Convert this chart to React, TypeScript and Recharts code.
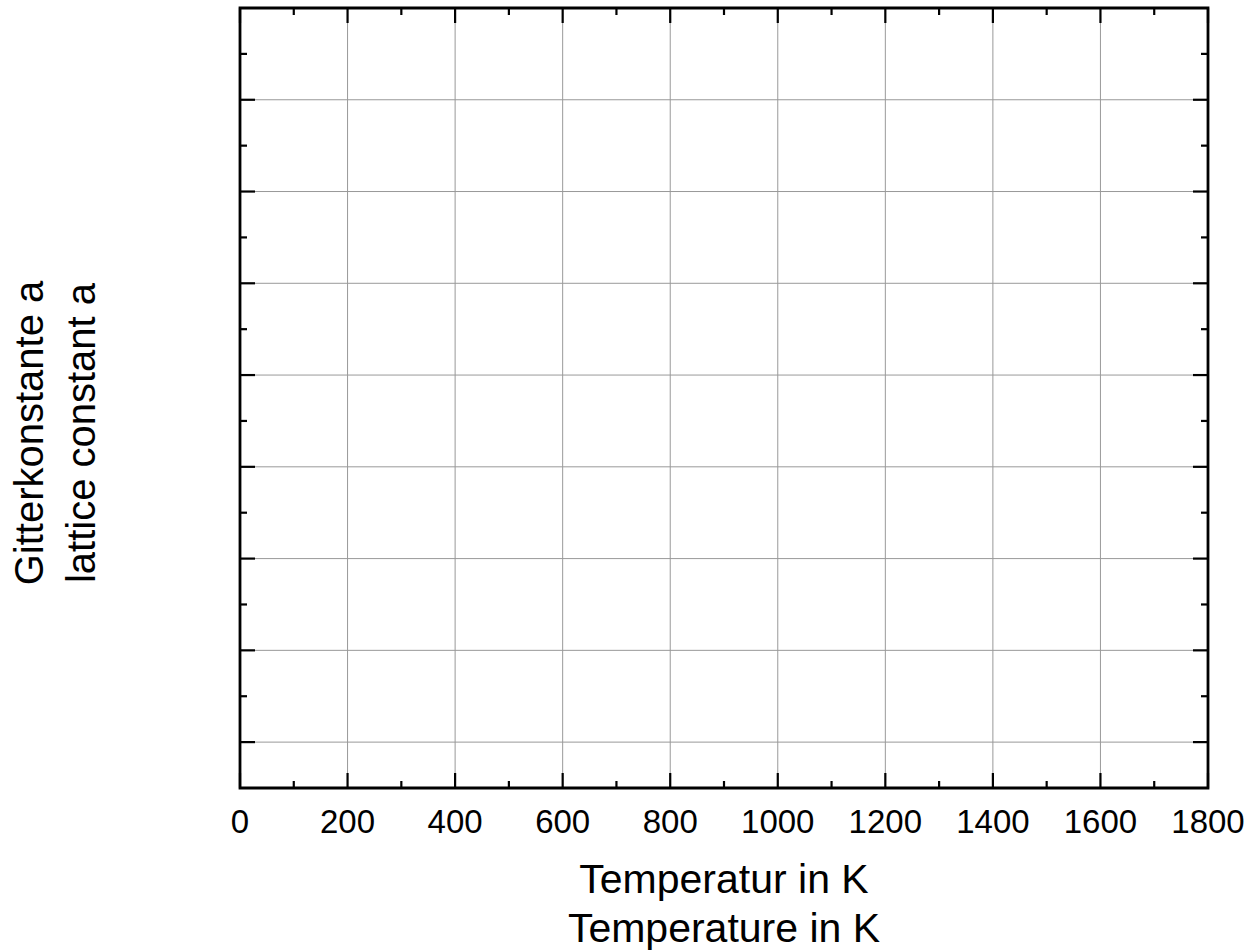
import React from 'react';
import { LineChart, XAxis, YAxis, CartesianGrid, ReferenceArea, Label } from 'recharts';

// Temperature axis (K)
const xMajorTicks = [0, 200, 400, 600, 800, 1000, 1200, 1400, 1600, 1800];
const xMinorTicks = [100, 300, 500, 700, 900, 1100, 1300, 1500, 1700];
const xDomain = [0, 1800];

// Lattice constant axis (unlabelled)
const yMajorTicks = [0.5, 1.5, 2.5, 3.5, 4.5, 5.5, 6.5, 7.5];
const yMinorTicks = [1, 2, 3, 4, 5, 6, 7, 8];
const yDomain = [0, 8.5];

const xTitle = ['Temperatur in K', 'Temperature in K'];
const yTitle = ['Gitterkonstante a', 'lattice constant a'];

const FONT = '"Liberation Sans", Arial, Helvetica, sans-serif';
const allX = [...xMajorTicks, ...xMinorTicks].sort((a, b) => a - b);
const allY = [...yMajorTicks, ...yMinorTicks].sort((a, b) => a - b);

const MAJOR = 15;
const MINOR = 7;

const isMajorX = (v: number) => xMajorTicks.includes(v);
const isMajorY = (v: number) => yMajorTicks.includes(v);

const BottomTick = (props: any) => {
  const { x, y, payload } = props;
  const major = isMajorX(payload.value);
  return (
    <g>
      <line x1={x} x2={x} y1={y} y2={y - (major ? MAJOR : MINOR)} stroke="#000" strokeWidth={2.2} />
      {major && (
        <text x={x} y={y + 45} textAnchor="middle" fontFamily={FONT} fontSize={33} fill="#000">
          {payload.value}
        </text>
      )}
    </g>
  );
};

const TopTick = (props: any) => {
  const { x, y, payload } = props;
  const major = isMajorX(payload.value);
  return <line x1={x} x2={x} y1={y} y2={y + (major ? MAJOR : MINOR)} stroke="#000" strokeWidth={2.2} />;
};

const LeftTick = (props: any) => {
  const { x, y, payload } = props;
  const major = isMajorY(payload.value);
  return <line x1={x} x2={x + (major ? MAJOR : MINOR)} y1={y} y2={y} stroke="#000" strokeWidth={2.2} />;
};

const RightTick = (props: any) => {
  const { x, y, payload } = props;
  const major = isMajorY(payload.value);
  return <line x1={x} x2={x - (major ? MAJOR : MINOR)} y1={y} y2={y} stroke="#000" strokeWidth={2.2} />;
};

const XTitle = (props: any) => {
  const vb = props.viewBox || {};
  const cx = vb.x + vb.width / 2;
  return (
    <g>
      <text x={cx} y={vb.y + 105} textAnchor="middle" fontFamily={FONT} fontSize={41} fill="#000">
        {xTitle[0]}
      </text>
      <text x={cx} y={vb.y + 154} textAnchor="middle" fontFamily={FONT} fontSize={41} fill="#000">
        {xTitle[1]}
      </text>
    </g>
  );
};

const YTitle = (props: any) => {
  const vb = props.viewBox || {};
  const cy = vb.y + vb.height / 2 + 35;
  const x1 = vb.x + 43;
  const x2 = vb.x + 95;
  return (
    <g>
      <text x={x1} y={cy} transform={`rotate(-90, ${x1}, ${cy})`} textAnchor="middle" fontFamily={FONT} fontSize={40} fill="#000">
        {yTitle[0]}
      </text>
      <text x={x2} y={cy} transform={`rotate(-90, ${x2}, ${cy})`} textAnchor="middle" fontFamily={FONT} fontSize={40} fill="#000">
        {yTitle[1]}
      </text>
    </g>
  );
};

export default function App() {
  return (
    <div style={{ position: 'absolute', left: 0, top: 0, background: '#fff' }}>
      <LineChart width={1259} height={951} data={[]} margin={{ top: 0, right: 0, bottom: 0, left: 0 }}>
        <CartesianGrid
          stroke="#999999"
          strokeWidth={1}
          horizontalValues={yMajorTicks}
          verticalValues={xMajorTicks}
        />
        <XAxis
          xAxisId={0}
          type="number"
          dataKey="x"
          orientation="bottom"
          domain={xDomain}
          ticks={allX}
          interval={0}
          height={163}
          tickSize={0}
          tickMargin={0}
          axisLine={false}
          tick={BottomTick}
          allowDataOverflow
        >
          <Label content={XTitle} />
        </XAxis>
        <XAxis
          xAxisId="top"
          type="number"
          dataKey="x"
          orientation="top"
          domain={xDomain}
          ticks={allX}
          interval={0}
          height={8}
          tickSize={0}
          tickMargin={0}
          axisLine={false}
          tick={TopTick}
          allowDataOverflow
        />
        <YAxis
          yAxisId={0}
          type="number"
          orientation="left"
          domain={yDomain}
          ticks={allY}
          interval={0}
          width={240}
          tickSize={0}
          tickMargin={0}
          axisLine={false}
          tick={LeftTick}
          allowDataOverflow
        >
          <Label content={YTitle} />
        </YAxis>
        <YAxis
          yAxisId="right"
          type="number"
          orientation="right"
          domain={yDomain}
          ticks={allY}
          interval={0}
          width={51}
          tickSize={0}
          tickMargin={0}
          axisLine={false}
          tick={RightTick}
          allowDataOverflow
        />
        <ReferenceArea
          xAxisId={0}
          yAxisId={0}
          x1={xDomain[0]}
          x2={xDomain[1]}
          y1={yDomain[0]}
          y2={yDomain[1]}
          fill="none"
          fillOpacity={0}
          stroke="#000"
          strokeWidth={2.8}
          ifOverflow="visible"
        />
      </LineChart>
    </div>
  );
}
